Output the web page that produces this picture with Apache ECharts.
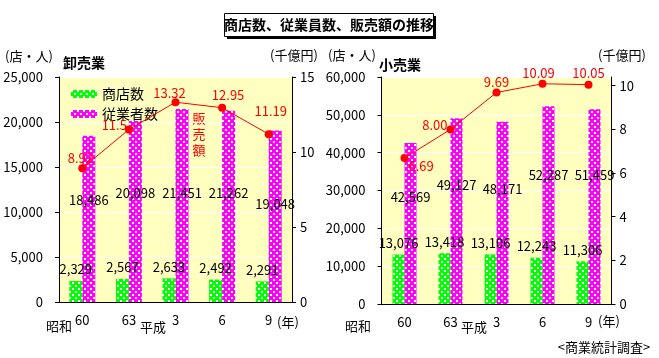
<!DOCTYPE html>
<html><head><meta charset="utf-8">
<script src="https://cdn.jsdelivr.net/npm/echarts/dist/echarts.min.js"></script>
<style>html,body{margin:0;padding:0;background:#fff}#c{width:659px;height:358px}</style>
</head><body><div id="c"></div>
<script>
// ---- data ----
const categories = ['60', '63', '3', '6', '9'];
const wholesaleStores = [2329, 2567, 2633, 2492, 2291];
const wholesaleWorkers = [18486, 20098, 21451, 21262, 19048];
const wholesaleSales = [8.92, 11.5, 13.32, 12.95, 11.19];
const retailStores = [13076, 13418, 13106, 12243, 11306];
const retailWorkers = [42569, 49127, 48171, 52287, 51459];
const retailSales = [6.69, 8.00, 9.69, 10.09, 10.05];
const seriesNames = ['商店数', '従業者数'];

// ---- styling ----
const FONT = "'Noto Sans CJK JP', sans-serif";
function pattern(base) {
  const c = document.createElement('canvas');
  c.width = 6; c.height = 6;
  const g = c.getContext('2d');
  g.fillStyle = base; g.fillRect(0, 0, 6, 6);
  g.fillStyle = '#ffffff';
  [[0, 0], [3, 3]].forEach(p => g.fillRect(p[0], p[1], 2, 2));
  return { image: c, repeat: 'repeat' };
}
const GREEN = pattern('#00ff00');
const MAGENTA = pattern('#ff00ff');
const fmt = v => v.toLocaleString('en-US');

const chart = echarts.init(document.getElementById('c'), null, { renderer: 'canvas' });

function catAxis(gi) {
  return {
    type: 'category', gridIndex: gi, data: categories,
    axisLine: { lineStyle: { color: '#000', width: 1 } },
    axisTick: { show: false },
    axisLabel: { color: '#000', fontSize: 13, fontFamily: FONT, margin: 12 }
  };
}
function valAxis(gi, pos, max, interval, opts) {
  return Object.assign({
    type: 'value', gridIndex: gi, position: pos, min: 0, max: max, interval: interval,
    axisLine: { show: true, lineStyle: { color: '#000', width: 1 } },
    axisTick: { show: true, length: 4, lineStyle: { color: '#000' } },
    axisLabel: { color: '#000', fontSize: 13, fontFamily: FONT, margin: pos === 'left' ? 16 : 8,
      formatter: v => fmt(v) },
    splitLine: { show: pos === 'left', lineStyle: { color: '#ffffff', width: 1 } }
  }, opts || {});
}

function barSeries(name, xi, yi, values, color, width, lifts) {
  return {
    type: 'bar', name: name, xAxisIndex: xi, yAxisIndex: yi, barWidth: width, barGap: '0%',
    itemStyle: { color: color },
    label: { show: true, color: '#000', fontSize: 13, fontFamily: FONT,
      position: lifts ? 'insideBottom' : 'top', formatter: p => fmt(p.value) },
    data: values.map((v, i) => lifts ? { value: v, label: { distance: lifts[i] } } : v),
    z: 2
  };
}
function lineSeries(xi, yi, values, positions, offsets, decimals) {
  return {
    type: 'line', xAxisIndex: xi, yAxisIndex: yi,
    symbol: 'circle', symbolSize: 8,
    lineStyle: { color: '#ff0000', width: 1 },
    itemStyle: { color: '#ff0000' },
    label: { show: true, color: '#ff0000', fontSize: 13, fontFamily: FONT,
      formatter: p => decimals ? p.value.toFixed(decimals) : String(p.value) },
    data: values.map((v, i) => ({ value: v, label: { position: positions[i], offset: offsets[i] } })),
    z: 5
  };
}

const txt = (x, y, text, extra) => ({
  type: 'text', x: x, y: y,
  style: Object.assign({ text: text, fill: '#000', font: '13px ' + FONT, align: 'center', verticalAlign: 'middle' }, extra || {})
});

chart.setOption({
  animation: false,
  grid: [
    { left: 59, right: 367, top: 77, bottom: 56, show: true, backgroundColor: '#ffffc0', borderWidth: 0 },
    { left: 381.5, right: 47.5, top: 77, bottom: 54, show: true, backgroundColor: '#ffffc0', borderWidth: 0 }
  ],
  legend: {
    data: seriesNames, orient: 'vertical', left: 66, top: 82,
    itemWidth: 26, itemHeight: 8, itemGap: 6,
    textStyle: { color: '#000', fontSize: 14, fontFamily: FONT }
  },
  xAxis: [catAxis(0), catAxis(1)],
  yAxis: [
    valAxis(0, 'left', 25000, 5000),
    valAxis(0, 'right', 15, 5),
    valAxis(1, 'left', 60000, 10000),
    valAxis(1, 'right', 10.4, 2, {
      axisTick: { show: true, length: 4, lineStyle: { color: '#000' }, customValues: [0, 2, 4, 6, 8, 10] },
      axisLabel: { color: '#000', fontSize: 13, fontFamily: FONT, margin: 8, customValues: [0, 2, 4, 6, 8, 10] }
    })
  ],
  series: [
    barSeries(seriesNames[0], 0, 0, wholesaleStores, GREEN, 13, null),
    barSeries(seriesNames[1], 0, 0, wholesaleWorkers, MAGENTA, 13, [95, 102, 102, 102, 91]),
    lineSeries(0, 1, wholesaleSales,
      ['top', 'left', 'top', 'top', 'top'],
      [[-2, 5], [7, -4], [-6, 6], [6, 3], [2, -8]], 0),
    barSeries(seriesNames[0], 1, 2, retailStores, GREEN, 12, null),
    barSeries(seriesNames[1], 1, 2, retailWorkers, MAGENTA, 12, [100, 112, 108, 122, 122]),
    lineSeries(1, 3, retailSales,
      ['right', 'left', 'top', 'top', 'top'],
      [[-5, 8], [6, -4], [0, 5], [-4, 5], [0, 4]], 2)
  ],
  graphic: [
    { type: 'rect', shape: { x: 227, y: 16, width: 209, height: 23 }, style: { fill: '#000' } },
    { type: 'rect', shape: { x: 224.5, y: 13.5, width: 209, height: 23 }, style: { fill: '#fff', stroke: '#000', lineWidth: 1 } },
    txt(329, 25, '商店数、従業員数、販売額の推移', { font: 'bold 14px ' + FONT }),
    txt(29, 56, '(店・人)'),
    txt(84, 63, '卸売業', { font: 'bold 14px ' + FONT }),
    txt(294, 55, '(千億円)'),
    txt(352, 55, '(店・人)'),
    txt(400, 65, '小売業', { font: 'bold 14px ' + FONT }),
    txt(622, 55, '(千億円)'),
    txt(199, 134, '販\n売\n額', { fill: '#ff0000', lineHeight: 16 }),
    txt(59, 326, '昭和'),
    txt(153, 327, '平成'),
    txt(288, 322, '(年)'),
    txt(358, 326, '昭和'),
    txt(474, 327, '平成'),
    txt(609, 321, '(年)'),
    txt(604, 347, '<商業統計調査>')
  ]
});
</script>
</body></html>
